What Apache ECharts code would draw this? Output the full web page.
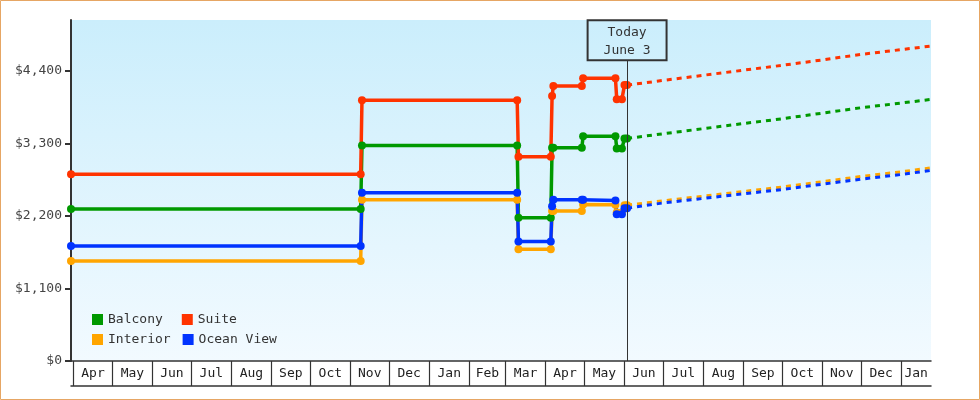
<!DOCTYPE html>
<html>
<head>
<meta charset="utf-8">
<script src="https://cdn.jsdelivr.net/npm/echarts@6/dist/echarts.min.js"></script>
<style>
html,body{margin:0;padding:0;background:#fff;}
#chart{width:980px;height:400px;}
</style>
</head>
<body>
<div id="chart"></div>
<script>
// ---- Data ----
const histDates = ['2012-03-30','2012-11-09','2012-11-10','2013-03-10','2013-03-11','2013-04-05','2013-04-06','2013-04-07','2013-04-29','2013-04-30','2013-05-25','2013-05-26','2013-05-30','2013-06-01','2013-06-03'];
const balconyHist   = [2305,2305,3268,3268,2170,2170,3232,3232,3232,3409,3409,3222,3222,3374,3374];
const suiteHist     = [2830,2830,3955,3955,3095,3095,4016,4168,4168,4285,4285,3970,3970,4183,4183];
const interiorHist  = [1517,1517,2443,2443,1695,1695,2276,2276,2276,2373,2370,2250,2250,2362,2362];
const oceanHist     = [1745,1745,2549,2549,1811,1811,2347,2445,2445,2445,2435,2226,2226,2315,2315];

const fcDates = ['2013-06-03','2013-07-01','2013-08-01','2013-09-01','2013-10-01','2013-11-01','2013-12-01','2014-01-01','2014-01-24'];
const balconyFc  = [3374,3446,3523,3600,3673,3758,3840,3911,3966];
const suiteFc    = [4183,4254,4332,4409,4483,4565,4649,4721,4775];
const interiorFc = [2362,2429,2499,2570,2638,2719,2798,2869,2928];
const oceanFc    = [2315,2397,2465,2535,2600,2681,2757,2828,2889];

const monthStarts = ['2012-04-01','2012-05-01','2012-06-01','2012-07-01','2012-08-01','2012-09-01','2012-10-01','2012-11-01','2012-12-01','2013-01-01','2013-02-01','2013-03-01','2013-04-01','2013-05-01','2013-06-01','2013-07-01','2013-08-01','2013-09-01','2013-10-01','2013-11-01','2013-12-01','2014-01-01'];
const monthLabels = ['Apr','May','Jun','Jul','Aug','Sep','Oct','Nov','Dec','Jan','Feb','Mar','Apr','May','Jun','Jul','Aug','Sep','Oct','Nov','Dec','Jan'];
const yTickValues = [0,1100,2200,3300,4400];
const axisMinDate = '2012-03-30';
const axisMaxDate = '2014-01-24';
const yMax = 5170;
const todayDate = '2013-06-03';
const todayText = 'Today\nJune 3';

// ---- Build ----
const MONO = "'DejaVu Sans Mono', monospace";
const pd = s => echarts.number.parseDate(s).getTime();
const tickVals = monthStarts.map(pd);
const bounds = tickVals.concat([pd(axisMaxDate)]);
const labelVals = monthLabels.map((m, i) => (bounds[i] + bounds[i + 1]) / 2);
const labelMap = {};
labelVals.forEach((v, i) => { labelMap[Math.round(v)] = monthLabels[i]; });

const colors = {Balcony:'#009900', Suite:'#ff3300', Interior:'#ffa500', 'Ocean View':'#0033ff'};

function hist(name, vals) {
  return {
    name, type:'line', data: histDates.map((d,i)=>[pd(d), vals[i]]),
    symbol:'circle', symbolSize:8, showSymbol:true, showAllSymbol:true,
    lineStyle:{width:3.5, color:colors[name]}, itemStyle:{color:colors[name]},
    emphasis:{disabled:true}, silent:true
  };
}
function fc(name, vals) {
  return {
    name, type:'line', data: fcDates.map((d,i)=>[pd(d), vals[i]]),
    symbol:'none', showSymbol:false,
    lineStyle:{width:3, color:colors[name], type:[5,5]}, itemStyle:{color:colors[name]},
    emphasis:{disabled:true}, silent:true
  };
}

const legendText = {fontFamily:MONO, fontSize:13, color:'#333'};

const option = {
  animation:false,
  textStyle:{fontFamily:MONO},
  graphic:[{type:'rect', shape:{x:0.5,y:0.5,width:979,height:399}, style:{fill:'none', stroke:'#e6a664', lineWidth:1}, z:100}],
  grid:{left:71, right:49, top:20, bottom:39, show:true, borderWidth:0,
    backgroundColor: new echarts.graphic.LinearGradient(0,0,0,1,[{offset:0,color:'#cbeefc'},{offset:1,color:'#f2faff'}])},
  legend:[
    {data:['Balcony','Suite'], left:92, top:313, padding:0, itemWidth:11, itemHeight:11, itemGap:19, icon:'rect', textStyle:legendText, selectedMode:false},
    {data:['Interior','Ocean View'], left:92, top:333, padding:0, itemWidth:11, itemHeight:11, itemGap:12, icon:'rect', textStyle:legendText, selectedMode:false}
  ],
  xAxis:[
    {type:'value', min:pd(axisMinDate), max:pd(axisMaxDate), scale:true,
     axisLine:{show:true, onZero:false, lineStyle:{color:'#333', width:1.5}},
     axisTick:{show:true, length:25, customValues:tickVals, lineStyle:{color:'#333', width:1.2}},
     axisLabel:{customValues:labelVals, margin:6, color:'#222', fontSize:13, fontFamily:MONO, align:'center',
       formatter: v => labelMap[Math.round(v)] || ''},
     splitLine:{show:false}},
    {type:'value', min:pd(axisMinDate), max:pd(axisMaxDate), scale:true, position:'bottom', offset:25,
     axisLine:{show:true, onZero:false, lineStyle:{color:'#333', width:1.5}},
     axisTick:{show:false}, axisLabel:{show:false}, splitLine:{show:false}}
  ],
  yAxis:{type:'value', min:0, max:yMax,
    axisLine:{show:true, lineStyle:{color:'#333', width:2}},
    axisTick:{show:true, length:6, customValues:yTickValues, lineStyle:{color:'#333', width:2}},
    axisLabel:{customValues:yTickValues, margin:9, color:'#444', fontSize:13, fontFamily:MONO,
      formatter: v => '$' + Number(v).toLocaleString('en-US')},
    splitLine:{show:false}},
  series:[
    hist('Balcony', balconyHist),
    hist('Interior', interiorHist),
    hist('Suite', suiteHist),
    hist('Ocean View', oceanHist),
    fc('Balcony', balconyFc),
    fc('Interior', interiorFc),
    fc('Suite', suiteFc),
    fc('Ocean View', oceanFc),
    {name:'today', type:'line', data:[], silent:true,
     markLine:{silent:true, symbol:['none','none'], animation:false,
       lineStyle:{color:'#333', width:1, type:'solid'},
       label:{show:true, position:'end', distance:0, formatter:todayText, color:'#333',
         fontFamily:MONO, fontSize:13, lineHeight:18, align:'center',
         borderColor:'#333', borderWidth:1, padding:[3,16,1,16], backgroundColor:'rgba(0,0,0,0)'},
       data:[[{coord:[pd(todayDate), 0]}, {coord:[pd(todayDate), 4560]}]]}}
  ]
};

const chart = echarts.init(document.getElementById('chart'));
chart.setOption(option);
</script>
</body>
</html>
